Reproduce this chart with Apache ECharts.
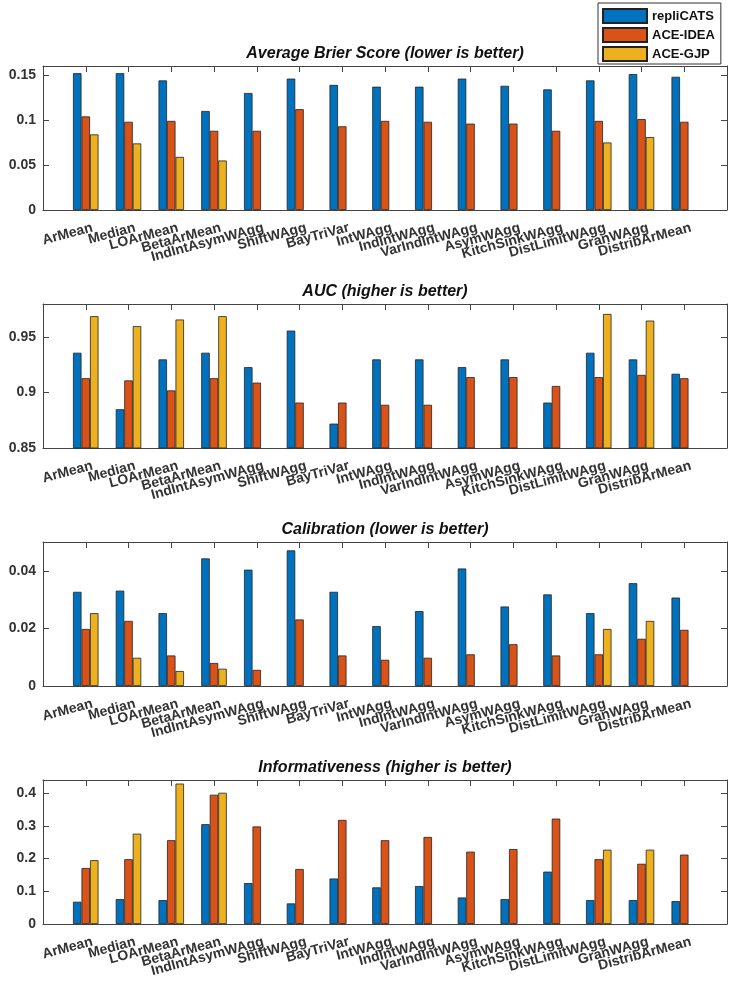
<!DOCTYPE html>
<html>
<head>
<meta charset="utf-8">
<title>Aggregation methods</title>
<script src="https://cdn.jsdelivr.net/npm/echarts@6/dist/echarts.min.js"></script>
<style>
  body { margin: 0; background: #fff; }
  #main { width: 733px; height: 994px; }
</style>
</head>
<body>
<div id="main"></div>
<script>
var categories = ['ArMean', 'Median', 'LOArMean', 'BetaArMean', 'IndIntAsymWAgg', 'ShiftWAgg', 'BayTriVar', 'IntWAgg',
  'IndIntWAgg', 'VarIndIntWAgg', 'AsymWAgg', 'KitchSinkWAgg', 'DistLimitWAgg', 'GranWAgg', 'DistribArMean'];
var seriesNames = ['repliCATS', 'ACE-IDEA', 'ACE-GJP'];
var colors = ['#0072BD', '#D95319', '#EDB120'];

// Average Brier Score (lower is better)
var brierReplicats = [0.152, 0.152, 0.144, 0.110, 0.130, 0.146, 0.139, 0.137, 0.137, 0.146, 0.138, 0.134, 0.144, 0.151, 0.148];
var brierIdea = [0.104, 0.098, 0.099, 0.088, 0.088, 0.112, 0.093, 0.099, 0.098, 0.096, 0.096, 0.088, 0.099, 0.101, 0.098];
var brierGjp = [0.084, 0.074, 0.059, 0.055, null, null, null, null, null, null, null, null, 0.075, 0.081, null];

// AUC (higher is better)
var aucReplicats = [0.936, 0.885, 0.930, 0.936, 0.923, 0.956, 0.872, 0.930, 0.930, 0.923, 0.930, 0.891, 0.936, 0.930, 0.917];
var aucIdea = [0.913, 0.911, 0.902, 0.913, 0.909, 0.891, 0.891, 0.889, 0.889, 0.914, 0.914, 0.906, 0.914, 0.916, 0.913];
var aucGjp = [0.969, 0.960, 0.966, 0.969, null, null, null, null, null, null, null, null, 0.971, 0.965, null];

// Calibration (lower is better)
var calReplicats = [0.0327, 0.0331, 0.0253, 0.0443, 0.0404, 0.0471, 0.0327, 0.0208, 0.0260, 0.0408, 0.0276, 0.0318, 0.0253, 0.0357, 0.0307];
var calIdea = [0.0198, 0.0226, 0.0106, 0.0080, 0.0056, 0.0231, 0.0106, 0.0091, 0.0098, 0.0110, 0.0145, 0.0106, 0.0110, 0.0164, 0.0195];
var calGjp = [0.0253, 0.0098, 0.0052, 0.0060, null, null, null, null, null, null, null, null, 0.0198, 0.0226, null];

// Informativeness (higher is better)
var infReplicats = [0.068, 0.076, 0.073, 0.305, 0.125, 0.063, 0.139, 0.112, 0.116, 0.081, 0.076, 0.160, 0.073, 0.073, 0.070];
var infIdea = [0.171, 0.198, 0.256, 0.395, 0.298, 0.168, 0.318, 0.256, 0.266, 0.221, 0.229, 0.322, 0.198, 0.184, 0.212];
var infGjp = [0.195, 0.276, 0.429, 0.401, null, null, null, null, null, null, null, null, 0.227, 0.227, null];

var panels = [
  { title: 'Average Brier Score (lower is better)', data: [brierReplicats, brierIdea, brierGjp], min: 0, max: 0.16, interval: 0.05, top: 66 },
  { title: 'AUC (higher is better)', data: [aucReplicats, aucIdea, aucGjp], min: 0.85, max: 0.98, interval: 0.05, top: 304 },
  { title: 'Calibration (lower is better)', data: [calReplicats, calIdea, calGjp], min: 0, max: 0.05, interval: 0.02, top: 542 },
  { title: 'Informativeness (higher is better)', data: [infReplicats, infIdea, infGjp], min: 0, max: 0.44, interval: 0.1, top: 780 }
];

var font = "'Liberation Sans', Arial, sans-serif";
var lineColor = '#444';
// empty slot on each side, like xlim [0 16] in the original
var xData = [''].concat(categories, ['']);
var realTick = function (idx) { return idx > 0 && idx < xData.length - 1; };

var grids = [], xAxes = [], yAxes = [], series = [];
panels.forEach(function (p, i) {
  grids.push({ left: 43, right: 6, top: p.top, height: 144 });
  var baseX = {
    gridIndex: i, type: 'category', data: xData, boundaryGap: false,
    axisLine: { onZero: false, lineStyle: { color: lineColor, width: 1 } },
    axisTick: { inside: true, length: 6, interval: realTick, lineStyle: { color: lineColor } },
    splitLine: { show: false }
  };
  xAxes.push(Object.assign({}, baseX, {
    position: 'bottom',
    axisLabel: {
      interval: 0, rotate: 15, margin: 12, verticalAlign: 'top', padding: [0, -5, 0, 0],
      fontSize: 14, fontWeight: 'bold', color: '#333', fontFamily: font
    }
  }));
  xAxes.push(Object.assign({}, baseX, {
    position: 'top', axisLabel: { show: false },
    name: p.title, nameLocation: 'middle', nameGap: 4,
    nameTextStyle: { fontSize: 16, fontWeight: 'bold', fontStyle: 'italic', color: '#111', fontFamily: font }
  }));
  var baseY = {
    gridIndex: i, type: 'value', min: p.min, max: p.max, interval: p.interval,
    axisLine: { show: true, onZero: false, lineStyle: { color: lineColor, width: 1 } },
    axisTick: { show: true, inside: true, length: 6, lineStyle: { color: lineColor } },
    splitLine: { show: false }
  };
  yAxes.push(Object.assign({}, baseY, {
    position: 'left',
    axisLabel: { showMaxLabel: false, margin: 7, fontSize: 14, fontWeight: 'bold', color: '#333', fontFamily: font }
  }));
  yAxes.push(Object.assign({}, baseY, { position: 'right', axisLabel: { show: false } }));

  p.data.forEach(function (vals, k) {
    series.push({
      name: seriesNames[k], type: 'bar',
      xAxisIndex: i * 2, yAxisIndex: i * 2,
      data: [null].concat(vals, [null]),
      barWidth: 8.5, barGap: '0%',
      itemStyle: { color: colors[k], borderColor: '#222', borderWidth: 0.8 },
      animation: false
    });
  });
});

var chart = echarts.init(document.getElementById('main'));
chart.setOption({
  backgroundColor: '#fff',
  animation: false,
  legend: {
    data: seriesNames, orient: 'vertical', left: 598, top: 3, icon: 'rect',
    padding: [5, 6, 2, 4], itemWidth: 44, itemHeight: 14, itemGap: 3,
    backgroundColor: '#fff', borderColor: '#333', borderWidth: 1,
    textStyle: { fontSize: 13, fontWeight: 'bold', color: '#111', fontFamily: font }
  },
  grid: grids,
  xAxis: xAxes,
  yAxis: yAxes,
  series: series
});
</script>
</body>
</html>
